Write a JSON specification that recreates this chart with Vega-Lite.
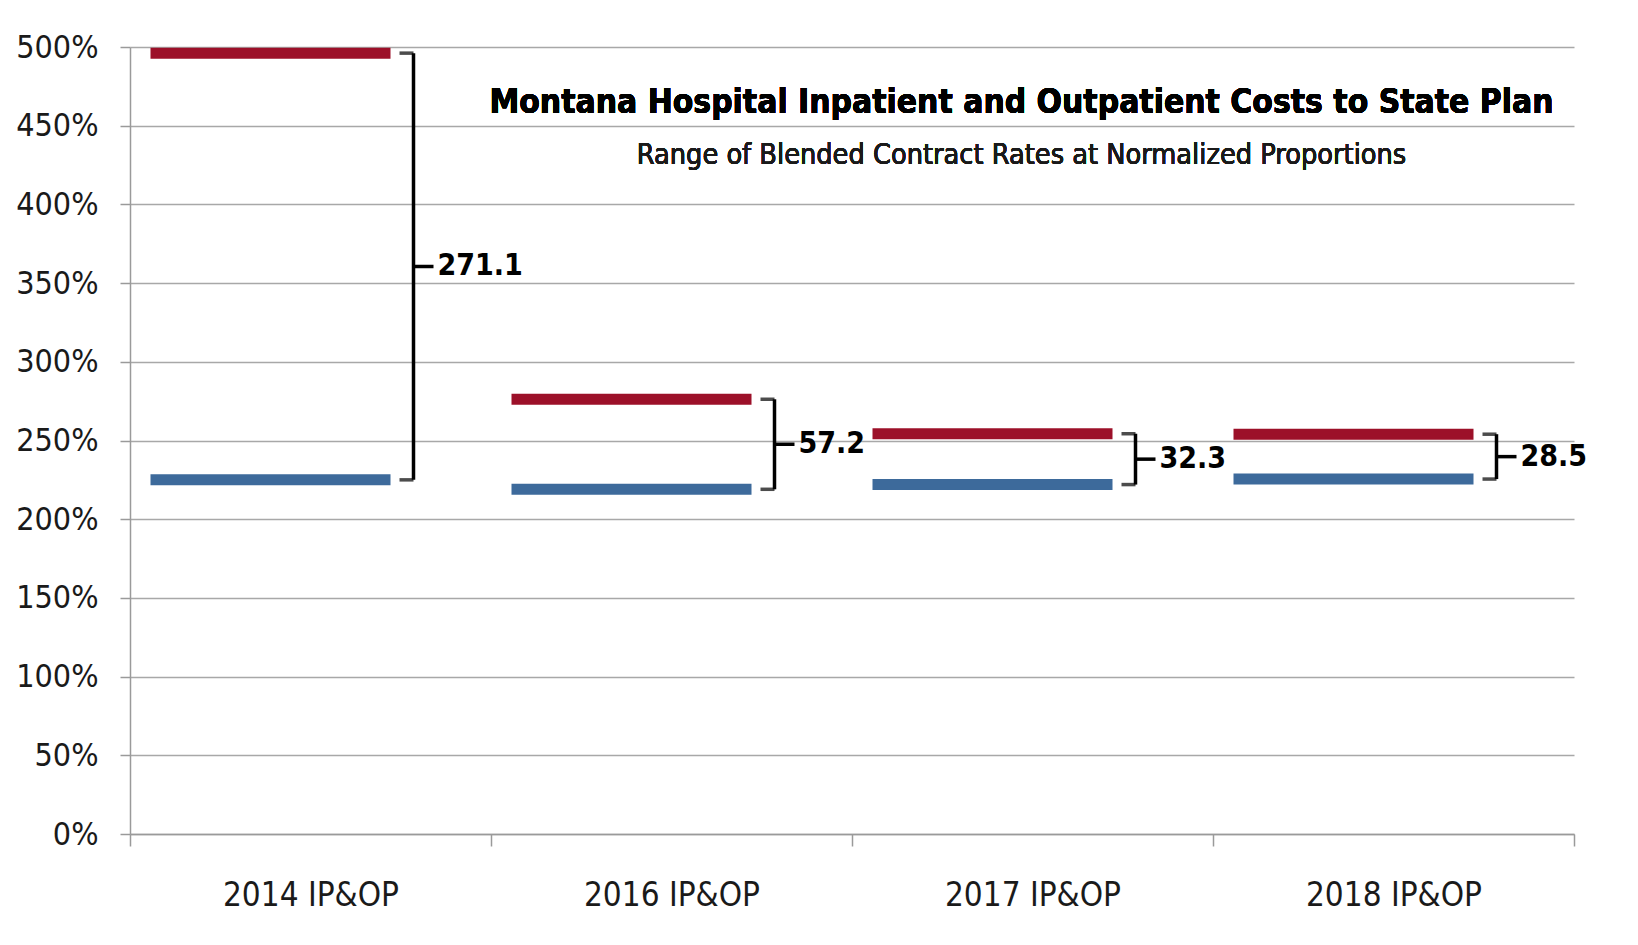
{
  "$schema": "https://vega.github.io/schema/vega-lite/v6.json",
  "width": 1444,
  "height": 787,
  "autosize": {"type": "none"},
  "padding": {"left": 130, "top": 47, "right": 64, "bottom": 111},
  "background": "white",
  "config": {
    "view": {"stroke": null},
    "font": "'DejaVu Sans Condensed', 'Liberation Sans', sans-serif",
    "axis": {"labelFont": "'DejaVu Sans Condensed', 'Liberation Sans', sans-serif", "labelFontSize": 32, "labelLimit": 0, "labelColor": "#1a1a1a", "domainColor": "#9a9a9a", "tickColor": "#9a9a9a", "gridColor": "#a8a8a8", "domainWidth": 1.5, "tickWidth": 1.5, "gridWidth": 1.5}
  },
  "data": {
    "values": [
      {"cat": "2014 IP&OP", "level": "High", "v": 496.1, "gap": "271.1"},
      {"cat": "2014 IP&OP", "level": "Low", "v": 225.0, "gap": "271.1"},
      {"cat": "2016 IP&OP", "level": "High", "v": 276.2, "gap": "57.2"},
      {"cat": "2016 IP&OP", "level": "Low", "v": 219.0, "gap": "57.2"},
      {"cat": "2017 IP&OP", "level": "High", "v": 254.3, "gap": "32.3"},
      {"cat": "2017 IP&OP", "level": "Low", "v": 222.0, "gap": "32.3"},
      {"cat": "2018 IP&OP", "level": "High", "v": 254.0, "gap": "28.5"},
      {"cat": "2018 IP&OP", "level": "Low", "v": 225.5, "gap": "28.5"}
    ]
  },
  "encoding": {
    "x": {
      "field": "cat", "type": "nominal", "sort": null,
      "scale": {"paddingInner": 0, "paddingOuter": 0},
      "axis": {"title": null, "labelAngle": 0, "tickBand": "extent", "tickSize": 12, "labelPadding": 33, "grid": false, "labelFontSize": 33}
    },
    "y": {
      "field": "v", "type": "quantitative",
      "scale": {"domain": [0, 500], "nice": false},
      "axis": {"title": null, "values": [0, 50, 100, 150, 200, 250, 300, 350, 400, 450, 500], "labelExpr": "datum.value + '%'", "tickSize": 10, "labelPadding": 22, "grid": true}
    }
  },
  "layer": [
    {
      "mark": {"type": "tick", "size": 240, "thickness": 11, "xOffset": -40, "opacity": 1},
      "encoding": {
        "color": {"field": "level", "type": "nominal", "scale": {"domain": ["High", "Low"], "range": ["#9c1029", "#3d6a9b"]}, "legend": null}
      }
    },
    {
      "mark": {"type": "tick", "size": 14, "thickness": 3.5, "xOffset": 96, "color": "black"}
    },
    {
      "mark": {"type": "rule", "strokeWidth": 3.5, "xOffset": 103, "color": "black"},
      "encoding": {
        "y": {"field": "v", "aggregate": "min", "type": "quantitative"},
        "y2": {"field": "v", "aggregate": "max"}
      }
    },
    {
      "mark": {"type": "tick", "size": 20, "thickness": 3.5, "xOffset": 113, "color": "black"},
      "encoding": {
        "y": {"field": "v", "aggregate": "mean", "type": "quantitative"}
      }
    },
    {
      "mark": {"type": "text", "align": "left", "baseline": "middle", "xOffset": 127, "fontSize": 30, "fontWeight": "bold", "color": "black"},
      "encoding": {
        "y": {"field": "v", "aggregate": "mean", "type": "quantitative"},
        "text": {"field": "gap", "type": "nominal"}
      }
    },
    {
      "mark": {"type": "text", "align": "center", "baseline": "middle", "xOffset": -11, "fontSize": 33.3, "fontWeight": "bold", "color": "black", "text": "Montana Hospital Inpatient and Outpatient Costs to State Plan"},
      "encoding": {
        "x": {"datum": "2017 IP&OP"},
        "y": {"datum": 464.5}
      }
    },
    {
      "mark": {"type": "text", "align": "center", "baseline": "middle", "xOffset": -11, "fontSize": 28.6, "color": "#1a1a1a", "text": "Range of Blended Contract Rates at Normalized Proportions"},
      "encoding": {
        "x": {"datum": "2017 IP&OP"},
        "y": {"datum": 431.4}
      }
    }
  ]
}
